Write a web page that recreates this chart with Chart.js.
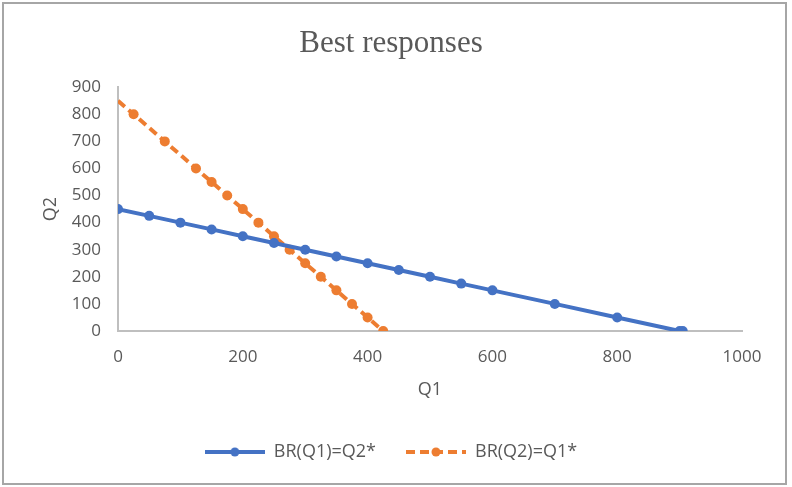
<!DOCTYPE html>
<html lang="en">
<head>
  <meta charset="UTF-8">
  <title>Best responses</title>
  <style>
    body { margin: 0; background: #fff; }
    #wrap { position: relative; width: 792px; height: 487px; }
    #frame { position: absolute; left: 2px; top: 2px; width: 781px; height: 479px; border: 2px solid #a6a6a6; pointer-events: none; }
  </style>
</head>
<body>
  <div id="wrap">
    <canvas id="myChart" width="792" height="487"></canvas>
    <div id="frame"></div>
  </div>

  <script src="https://cdn.jsdelivr.net/npm/chart.js"></script>
  <script>
    // BR(Q1)=Q2*
    const q1Blue = [0, 50, 100, 150, 200, 250, 300, 350, 400, 450, 500, 550, 600, 700, 800, 900, 905];
    const q2Blue = [450, 425, 400, 375, 350, 325, 300, 275, 250, 225, 200, 175, 150, 100, 50, 0, 0];

    // BR(Q2)=Q1*
    const q1Orange = [0, 25, 75, 125, 150, 175, 200, 225, 250, 275, 300, 325, 350, 375, 400, 425];
    const q2Orange = [850, 800, 700, 600, 550, 500, 450, 400, 350, 300, 250, 200, 150, 100, 50, 0];

    const xTicks = [0, 200, 400, 600, 800, 1000];
    const yTicks = [0, 100, 200, 300, 400, 500, 600, 700, 800, 900];

    const blue = '#4472C4';
    const orange = '#ED7D31';
    const grey = '#595959';

    function legendIcon(color, dash) {
      const c = document.createElement('canvas');
      c.width = 60;
      c.height = 14;
      const g = c.getContext('2d');
      g.strokeStyle = color;
      g.lineWidth = 4;
      g.setLineDash(dash);
      g.beginPath();
      g.moveTo(0, 7);
      g.lineTo(60, 7);
      g.stroke();
      g.setLineDash([]);
      g.fillStyle = color;
      g.beginPath();
      g.arc(30, 7, 4.5, 0, Math.PI * 2);
      g.fill();
      return c;
    }

    const ctx = document.getElementById('myChart');
    new Chart(ctx, {
      type: 'scatter',
      data: {
        datasets: [
          {
            label: 'BR(Q1)=Q2*',
            data: q1Blue.map((x, i) => ({ x: x, y: q2Blue[i] })),
            showLine: true,
            borderColor: blue,
            backgroundColor: blue,
            borderWidth: 4,
            pointRadius: 5,
            pointBorderWidth: 0,
            pointStyle: 'circle',
            legendIcon: legendIcon(blue, [])
          },
          {
            label: 'BR(Q2)=Q1*',
            data: q1Orange.map((x, i) => ({ x: x, y: q2Orange[i] })),
            showLine: true,
            borderColor: orange,
            backgroundColor: orange,
            borderWidth: 4,
            borderDash: [9, 5],
            pointRadius: q1Orange.map((x, i) => i === 0 ? 0 : 5),
            pointBorderWidth: 0,
            pointStyle: 'circle',
            legendIcon: legendIcon(orange, [9, 5])
          }
        ]
      },
      options: {
        responsive: false,
        animation: false,
        layout: { padding: { left: 40, right: 50, top: 0, bottom: 16 } },
        plugins: {
          title: {
            display: true,
            text: 'Best responses',
            color: grey,
            font: { family: '"Liberation Serif", "DejaVu Serif", serif', size: 31, weight: 'normal' },
            padding: { top: 25, bottom: 25 }
          },
          legend: {
            position: 'bottom',
            labels: {
              usePointStyle: true,
              pointStyleWidth: 60,
              color: grey,
              font: { family: '"Open Sans", sans-serif', size: 18 },
              padding: 30,
              generateLabels(chart) {
                return chart.data.datasets.map((ds, i) => ({
                  text: ds.label,
                  fontColor: grey,
                  pointStyle: ds.legendIcon,
                  datasetIndex: i,
                  lineWidth: 0,
                  hidden: false
                }));
              }
            }
          },
          tooltip: { enabled: false }
        },
        scales: {
          x: {
            type: 'linear',
            min: 0,
            max: 1000,
            afterBuildTicks(scale) { scale.ticks = xTicks.map(v => ({ value: v })); },
            afterFit(scale) { scale.height = 82; },
            grid: { display: false, drawTicks: false },
            border: { display: true, color: '#bfbfbf', width: 2 },
            ticks: {
              color: grey,
              font: { family: '"Open Sans", sans-serif', size: 17 },
              padding: 16,
              maxRotation: 0,
              callback: v => String(v)
            },
            title: {
              display: true,
              text: 'Q1',
              color: grey,
              font: { family: '"Open Sans", sans-serif', size: 18 },
              padding: { top: 10, bottom: 12 }
            }
          },
          y: {
            type: 'linear',
            min: 0,
            max: 900,
            afterBuildTicks(scale) { scale.ticks = yTicks.map(v => ({ value: v })); },
            afterFit(scale) { scale.width = 78; },
            grid: { display: false, drawTicks: false },
            border: { display: true, color: '#bfbfbf', width: 2 },
            ticks: {
              color: grey,
              font: { family: '"Open Sans", sans-serif', size: 17 },
              padding: 17,
              callback: v => String(v)
            },
            title: {
              display: true,
              text: 'Q2',
              color: grey,
              font: { family: '"Open Sans", sans-serif', size: 18 },
              padding: { top: 0, bottom: 0 }
            }
          }
        }
      }
    });
  </script>
</body>
</html>
